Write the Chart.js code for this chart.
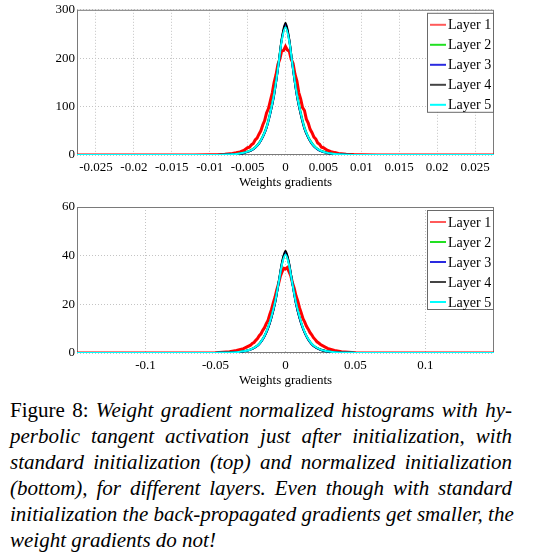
<!DOCTYPE html>
<html>
<head>
<meta charset="utf-8">
<script src="https://cdn.jsdelivr.net/npm/chart.js@4.4.1/dist/chart.umd.min.js"></script>
<style>
  body { margin: 0; background: #fff; width: 536px; height: 554px; overflow: hidden; position: relative; }
  #topChart { position: absolute; left: 0; top: 0; }
  #bottomChart { position: absolute; left: 0; top: 194px; }
  #caption { position: absolute; left: 10px; top: 397px; width: 502px;
             font-family: "Liberation Serif", "Times New Roman", serif; font-size: 21px; line-height: 26px; color: #000; }
  #caption div { white-space: nowrap; text-align: justify; text-align-last: justify; }
  #caption div.last { text-align-last: left; }
</style>
</head>
<body>
<canvas id="topChart" width="536" height="194"></canvas>
<canvas id="bottomChart" width="536" height="198"></canvas>
<div id="caption">
  <div>Figure 8: <i>Weight gradient normalized histograms with hy-</i></div>
  <div><i>perbolic tangent activation just after initialization, with</i></div>
  <div><i>standard initialization (top) and normalized initialization</i></div>
  <div><i>(bottom), for different layers. Even though with standard</i></div>
  <div><i>initialization the back-propagated gradients get smaller, the</i></div>
  <div class="last"><i>weight gradients do not!</i></div>
</div>
<script>
const layerNames = ['Layer 1', 'Layer 2', 'Layer 3', 'Layer 4', 'Layer 5'];
const layerColors = ['#ff0000', '#00e600', '#0000ff', '#000000', '#00ffff'];
const legendColors = ['#ff5a5a', '#22e022', '#2a2ae0', '#444444', '#00ffff'];

// ---- top chart: standard initialization ----
const xTicksTop = [-0.025, -0.02, -0.015, -0.01, -0.005, 0, 0.005, 0.01, 0.015, 0.02, 0.025];
const yTicksTop = [0, 100, 200, 300];

const xTop = [-0.0275, -0.025, -0.02, -0.015, -0.012, -0.01, -0.009, -0.008, -0.0075, -0.007, -0.0065, -0.006,
  -0.0055, -0.005, -0.0045, -0.004, -0.0035, -0.003, -0.0025, -0.002, -0.0015, -0.001, -0.0005, 0,
  0.0005, 0.001, 0.0015, 0.002, 0.0025, 0.003, 0.0035, 0.004, 0.0045, 0.005, 0.0055, 0.006,
  0.0065, 0.007, 0.0075, 0.008, 0.009, 0.01, 0.012, 0.015, 0.02, 0.025, 0.0275];

const layer2Top = [0, 0, 0, 0, 0.02, 0.1, 0.25, 0.6, 0.9, 1.4, 2.1, 3.1, 4.7, 7.3, 10.5, 16, 25, 39, 59, 90, 128, 180, 238, 266,
  236, 179, 127, 89, 58, 38, 24.5, 15.5, 10.2, 7.1, 4.6, 3, 2, 1.3, 0.9, 0.6, 0.25, 0.1, 0.02, 0, 0, 0, 0];
const layer3Top = [0, 0, 0, 0, 0.02, 0.1, 0.2, 0.5, 0.8, 1.2, 1.9, 2.8, 4.3, 6.5, 9.5, 15, 23.5, 37, 56, 86, 124, 177, 238, 270,
  237, 176, 123, 85, 55, 36, 23, 14.5, 9.3, 6.4, 4.2, 2.8, 1.9, 1.2, 0.8, 0.5, 0.2, 0.1, 0.02, 0, 0, 0, 0];
const layer4Top = [0, 0, 0, 0, 0.02, 0.1, 0.2, 0.5, 0.8, 1.2, 1.9, 2.8, 4.3, 6.5, 9.5, 15, 23.5, 37, 56, 86, 124, 178, 240, 273,
  239, 176, 122, 84, 54, 35.5, 22.5, 14.3, 9.2, 6.3, 4.1, 2.7, 1.8, 1.2, 0.8, 0.5, 0.2, 0.1, 0.02, 0, 0, 0, 0];
const layer5Top = [0, 0, 0, 0, 0.02, 0.1, 0.2, 0.5, 0.8, 1.3, 2, 3, 4.5, 7, 10, 15.5, 24, 38, 57, 88, 126, 178, 236, 264,
  235, 177, 125, 87, 56, 37, 23.5, 15, 9.8, 6.8, 4.4, 2.9, 1.9, 1.3, 0.8, 0.5, 0.2, 0.1, 0.02, 0, 0, 0, 0];

// layer 1 is noisy, sampled finer around the peak
const xRedTop = [-0.0275, -0.025, -0.02, -0.015, -0.012, -0.01, -0.009, -0.008, -0.007, -0.0065, -0.006, -0.0055,
  -0.005, -0.00475, -0.0045, -0.00425, -0.004, -0.00375, -0.0035, -0.00325, -0.003, -0.00275,
  -0.0025, -0.00225, -0.002, -0.00175, -0.0015, -0.00125, -0.001, -0.00075, -0.0005, -0.00025, 0,
  0.00025, 0.0005, 0.00075, 0.001, 0.00125, 0.0015, 0.00175, 0.002, 0.00225, 0.0025,
  0.00275, 0.003, 0.00325, 0.0035, 0.00375, 0.004, 0.00425, 0.0045, 0.00475, 0.005,
  0.0055, 0.006, 0.0065, 0.007, 0.008, 0.009, 0.01, 0.012, 0.015, 0.02, 0.025, 0.0275];
const layer1Top = [0, 0, 0, 0.05, 0.1, 0.3, 0.7, 1.5, 3, 4.5, 6.5, 9.5,
  15, 16, 21, 24, 31, 35, 43, 50, 62, 71,
  87, 96, 112, 128, 150, 166, 187, 198, 215, 216, 224,
  217, 214, 198, 189, 167, 153, 129, 116, 98, 92,
  74, 66, 53, 46, 37, 33, 25, 22, 16, 15,
  10, 7, 5, 3.3, 1.7, 0.8, 0.35, 0.1, 0.05, 0, 0, 0];

// ---- bottom chart: normalized initialization ----
const xTicksBottom = [-0.1, -0.05, 0, 0.05, 0.1];
const yTicksBottom = [0, 20, 40, 60];

const xBottom = [-0.149, -0.12, -0.1, -0.08, -0.06, -0.05, -0.04, -0.035, -0.03, -0.025, -0.02, -0.0175, -0.015,
  -0.0125, -0.01, -0.0075, -0.005, -0.0025, 0, 0.0025, 0.005, 0.0075, 0.01, 0.0125, 0.015, 0.0175, 0.02,
  0.025, 0.03, 0.035, 0.04, 0.05, 0.06, 0.08, 0.1, 0.12, 0.149];

const layer2Bottom = [0, 0, 0, 0, 0.02, 0.05, 0.16, 0.34, 0.72, 1.5, 3.2, 4.8, 7.1, 10.4, 15, 20.7, 28.6, 36.6, 40.8,
  36.5, 28.4, 20.6, 14.9, 10.3, 7, 4.7, 3.1, 1.45, 0.7, 0.33, 0.15, 0.05, 0.02, 0, 0, 0, 0];
const layer3Bottom = [0, 0, 0, 0, 0.02, 0.05, 0.14, 0.3, 0.65, 1.4, 3, 4.6, 6.9, 10.1, 14.6, 20.4, 28.5, 37, 41.5,
  36.8, 28.3, 20.2, 14.4, 10, 6.8, 4.5, 2.9, 1.35, 0.62, 0.3, 0.13, 0.05, 0.02, 0, 0, 0, 0];
const layer4Bottom = [0, 0, 0, 0, 0.02, 0.05, 0.14, 0.3, 0.65, 1.4, 3, 4.6, 6.9, 10.1, 14.6, 20.4, 28.6, 37.3, 42,
  37.1, 28.4, 20.2, 14.4, 10, 6.8, 4.5, 2.9, 1.35, 0.62, 0.3, 0.13, 0.05, 0.02, 0, 0, 0, 0];
const layer5Bottom = [0, 0, 0, 0, 0.02, 0.05, 0.15, 0.33, 0.7, 1.45, 3.1, 4.7, 7.1, 10.4, 15, 20.8, 28.5, 36.5, 40.5,
  36.3, 28.3, 20.6, 14.9, 10.3, 7, 4.7, 3.05, 1.4, 0.68, 0.32, 0.15, 0.05, 0.02, 0, 0, 0, 0];

const xRedBottom = [-0.149, -0.12, -0.1, -0.08, -0.06, -0.05, -0.04, -0.035, -0.03,
  -0.025, -0.02375, -0.0225, -0.02125, -0.02, -0.01875, -0.0175, -0.01625, -0.015, -0.01375,
  -0.0125, -0.01125, -0.01, -0.00875, -0.0075, -0.00625, -0.005, -0.00375, -0.0025, -0.00125, 0,
  0.00125, 0.0025, 0.00375, 0.005, 0.00625, 0.0075, 0.00875, 0.01, 0.01125, 0.0125,
  0.01375, 0.015, 0.01625, 0.0175, 0.01875, 0.02, 0.02125, 0.0225, 0.02375, 0.025,
  0.03, 0.035, 0.04, 0.05, 0.06, 0.08, 0.1, 0.12, 0.149];
const layer1Bottom = [0, 0, 0, 0, 0.05, 0.15, 0.5, 1, 1.8,
  3.2, 3.9, 4.3, 5.2, 5.9, 7.1, 7.9, 9.3, 10.4, 12.1,
  13.4, 15.8, 17.9, 20.6, 22.9, 25.9, 28.4, 31.4, 33.3, 34.8, 34.6,
  35.1, 33.4, 31.8, 28.8, 26.5, 23.5, 21.4, 18.6, 16.5, 14.1,
  12.7, 11, 9.8, 8.4, 7.5, 6.3, 5.5, 4.6, 4.1, 3.5,
  1.9, 1.05, 0.5, 0.15, 0.05, 0, 0, 0, 0];

const serif = '"Liberation Serif", "Times New Roman", serif';

function toPoints(xs, ys) {
  return xs.map((x, i) => ({ x: x, y: ys[i] }));
}

// box around the plot (drawn under the curves) and the boxed legend top right
const framePlugin = {
  id: 'frame',
  beforeDatasetsDraw(chart) {
    const a = chart.chartArea;
    const ctx = chart.ctx;
    ctx.save();
    ctx.strokeStyle = '#7a7a7a';
    ctx.lineWidth = 1;
    ctx.strokeRect(a.left + 0.5, a.top + 0.5, a.right - a.left - 1, a.bottom - a.top - 1);
    ctx.restore();
  },
  afterDraw(chart) {
    const a = chart.chartArea;
    const ctx = chart.ctx;
    const w = 66, h = 99;
    const left = a.right - w - 1, top = a.top + 3;
    ctx.save();
    ctx.fillStyle = '#fff';
    ctx.fillRect(left, top, w, h);
    ctx.strokeStyle = '#6a6a6a';
    ctx.lineWidth = 1;
    ctx.strokeRect(left + 0.5, top + 0.5, w, h);
    ctx.font = '14px ' + serif;
    ctx.textBaseline = 'middle';
    layerNames.forEach((name, i) => {
      const y = top + 12 + i * 20;
      ctx.strokeStyle = legendColors[i];
      ctx.lineWidth = 2;
      ctx.beginPath();
      ctx.moveTo(left + 3, y);
      ctx.lineTo(left + 19, y);
      ctx.stroke();
      ctx.fillStyle = '#000';
      ctx.fillText(name, left + 21, y + 1);
    });
    ctx.restore();
  }
};

function makeChart(canvasId, seriesX, redX, series, xMin, xMax, xTicks, yTicks, topPad) {
  const datasets = series.map((ys, i) => ({
    label: layerNames[i],
    data: toPoints(i === 0 ? redX : seriesX, ys),
    borderColor: layerColors[i],
    borderWidth: i === 0 ? 3 : 2,
    pointRadius: 0,
    fill: false,
    tension: 0,
    cubicInterpolationMode: i === 0 ? 'default' : 'monotone',
    order: 5 - i
  }));

  return new Chart(document.getElementById(canvasId), {
    type: 'line',
    data: { datasets: datasets },
    options: {
      responsive: false,
      animation: false,
      layout: { padding: { left: 0, right: 42, top: topPad, bottom: 0 } },
      plugins: { legend: { display: false }, tooltip: { enabled: false } },
      scales: {
        x: {
          type: 'linear',
          min: xMin,
          max: xMax,
          afterBuildTicks: s => { s.ticks = xTicks.map(v => ({ value: v })); },
          afterFit: s => { s.height = 39; },
          grid: { color: '#c4c4c4', drawTicks: false },
          border: { display: false, dash: [1, 2] },
          ticks: { color: '#000', padding: 5, maxRotation: 0, font: { family: serif, size: 13 },
                   callback: v => String(v) },
          title: { display: true, text: 'Weights gradients', color: '#000', font: { family: serif, size: 13 },
                   padding: { top: 0, bottom: 4 } }
        },
        y: {
          min: yTicks[0],
          max: yTicks[yTicks.length - 1],
          afterBuildTicks: s => { s.ticks = yTicks.map(v => ({ value: v })); },
          afterFit: s => { s.width = 77; },
          grid: { color: '#c4c4c4', drawTicks: false },
          border: { display: false, dash: [1, 2] },
          ticks: { color: '#000', padding: 2, font: { family: serif, size: 13 },
                   callback: v => String(v) }
        }
      }
    },
    plugins: [framePlugin]
  });
}

makeChart('topChart', xTop, xRedTop, [layer1Top, layer2Top, layer3Top, layer4Top, layer5Top],
  -0.0275, 0.0275, xTicksTop, yTicksTop, 8);
makeChart('bottomChart', xBottom, xRedBottom, [layer1Bottom, layer2Bottom, layer3Bottom, layer4Bottom, layer5Bottom],
  -0.149, 0.149, xTicksBottom, yTicksBottom, 13);
</script>
</body>
</html>
